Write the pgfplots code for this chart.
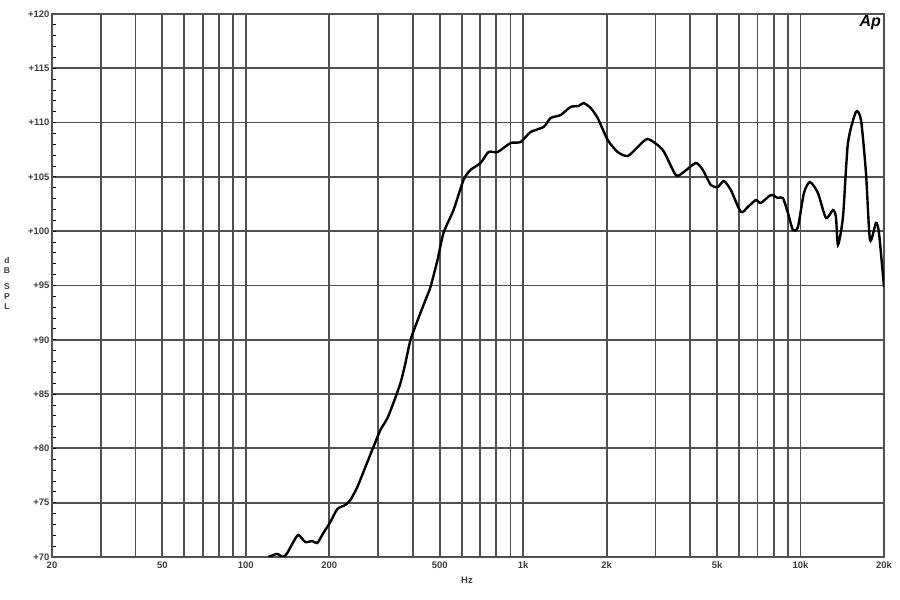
\documentclass[border=0pt]{standalone}
\usepackage{fontspec}
\setmainfont{Liberation Sans}
\usepackage{pgfplots}
\pgfplotsset{compat=1.18}
\definecolor{gridc}{RGB}{80,80,80}
\definecolor{txtc}{RGB}{60,60,60}
\begin{document}
\begin{tikzpicture}
\path[use as bounding box] (0,0) rectangle (900bp,600bp);
\begin{axis}[
  at={(52bp,43bp)}, anchor=south west,
  scale only axis, width=832bp, height=543bp,
  xmode=log, xmin=20, xmax=20000, ymin=70, ymax=120,
  xtick={20,50,100,200,500,1000,2000,5000,10000,20000},
  xticklabels={20,50,100,200,500,1k,2k,5k,10k,20k},
  minor xtick={30,40,60,70,80,90,300,400,600,700,800,900,3000,4000,6000,7000,8000,9000},
  ytick={70,75,...,120},
  yticklabels={+70,+75,+80,+85,+90,+95,+100,+105,+110,+115,+120},
  minor ytick={71,72,73,74,76,77,78,79,81,82,83,84,86,87,88,89,91,92,93,94,96,97,98,99,101,102,103,104,106,107,108,109,111,112,113,114,116,117,118,119},
  xmajorgrids, xminorgrids, ymajorgrids,
  major grid style={draw=gridc, line width=1.8bp},
  minor grid style={draw=gridc, line width=1.8bp},
  axis line style={draw=gridc, line width=1.8bp},
  xtick style={draw=none},
  ytick pos=left, tick align=inside,
  ytick style={draw=black, line width=0.9bp},
  major tick length=4bp, minor tick length=3.5bp,
  ticklabel style={font=\fontsize{9.5}{10}\selectfont\bfseries, text=txtc},
  yticklabel style={xshift=1bp},
  xticklabel style={yshift=-1bp},
  clip=true,
]
\addplot[black, line width=2.4bp, smooth, tension=0.4] coordinates {
(120.5,70.0) (125.6,70.18) (129.9,70.28) (136.5,70.0) (141,70.37)
(148.3,71.38) (154.6,72.03) (163.9,71.38) (173.6,71.47) (181,71.29)
(190.3,72.21) (201.7,73.22) (213.8,74.42) (228.4,74.79) (238.2,75.25)
(252.4,76.45) (269.8,78.29) (288.4,80.13) (305.6,81.69) (324,82.80)
(340.4,84.18) (361,86.02) (376.2,87.86) (392.2,89.98) (419.2,92.0)
(444.4,93.67) (463,94.86) (491,97.35) (515.8,99.83) (560.8,101.95)
(609.2,104.71) (645.6,105.64) (701.8,106.28) (750,107.29) (808.4,107.29)
(900.6,108.12) (978.6,108.21) (1063,109.13) (1185,109.6) (1256,110.42)
(1365,110.7) (1483,111.44) (1584,111.53) (1652,111.8) (1751,111.34)
(1856,110.42) (2017,108.40) (2192,107.29) (2382,106.92) (2588,107.75)
(2812,108.49) (3186,107.48) (3550,105.17) (3793,105.45) (4192,106.28)
(4444,105.64) (4750,104.25) (5032,104.07) (5290,104.62) (5608,103.79)
(6094,101.77) (6456,102.23) (6902,102.87) (7194,102.60) (7818,103.33)
(8286,103.06) (8640,103.06) (9006,101.68) (9390,100.11) (9786,100.39)
(10288,103.52) (10814,104.53) (11554,103.52) (12350,101.22) (13090,101.95)
(13420,101.31) (13646,98.73) (14226,101.31) (14826,108.12) (15844,110.98)
(16520,110.24) (17220,105.36) (17804,99.19) (18714,100.76) (19186,99.83)
(20000,94.86)
};
\end{axis}
\node[font=\fontsize{9.5}{10}\selectfont\bfseries, text=txtc] at (467bp,20bp) {Hz};
\node[font=\fontsize{8.5}{10}\selectfont\bfseries, text=txtc, align=center, anchor=north] at (7bp,346bp) {d\\B\\[6bp]S\\P\\L};
\node[font=\fontsize{16}{16}\selectfont\bfseries\itshape, anchor=north east, inner sep=0pt] at (881bp,585bp) {Ap};
\end{tikzpicture}
\end{document}
